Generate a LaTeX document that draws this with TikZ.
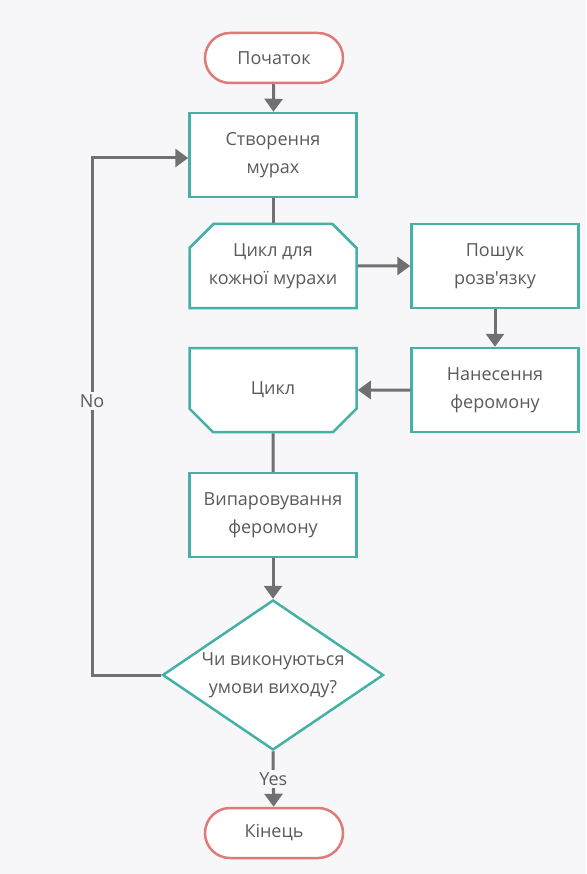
\documentclass[tikz,border=0pt]{standalone}
\usepackage{fontspec}
\setmainfont{Open Sans}[Ligatures=TeXOff]
\usetikzlibrary{shapes.geometric,shapes.misc,arrows.meta}
\definecolor{bg}{HTML}{F7F7F9}
\definecolor{teal1}{HTML}{45B0A5}
\definecolor{red1}{HTML}{E07A7A}
\definecolor{line1}{HTML}{707070}
\definecolor{txt}{HTML}{5A5A5A}
\begin{document}
\begin{tikzpicture}[x=1pt,y=-1pt,
 base/.style={font=\fontsize{18}{28}\selectfont, text=txt, align=center, fill=white, line width=2.5pt},
 term/.style={base, draw=red1, rounded corners=25pt, minimum width=138pt, minimum height=50pt},
 proc/.style={base, draw=teal1, minimum width=167pt, minimum height=84pt},
 loopa/.style={base, draw=teal1, chamfered rectangle, chamfered rectangle corners={north west, north east}, chamfered rectangle xsep=12pt, chamfered rectangle ysep=12pt, minimum width=167pt, minimum height=84pt},
 loopb/.style={base, draw=teal1, chamfered rectangle, chamfered rectangle corners={south west, south east}, chamfered rectangle xsep=12pt, chamfered rectangle ysep=12pt, minimum width=167pt, minimum height=84pt},
 dec/.style={base, draw=teal1, diamond, aspect=1.47, inner sep=0pt, minimum width=221pt, minimum height=150pt},
 ln/.style={draw=line1, line width=3pt},
 arr/.style={ln, -{Triangle[width=18pt,length=13pt]}},
 lab/.style={font=\fontsize{18}{22}\selectfont, text=txt, fill=bg, inner sep=2pt}
]
\fill[bg] (0,0) rectangle (586,874);
\useasboundingbox (0,0) rectangle (586,874);
\node[term] (start) at (274,58) {Початок};
\node[proc] (create) at (273,155) {Створення\\мурах};
\node[loopa] (loop1) at (273,266) {Цикл для\\кожної мурахи};
\node[proc] (search) at (495,266) {Пошук\\розв'язку};
\node[proc] (apply) at (495,390) {Нанесення\\феромону};
\node[loopb] (loop2) at (273,390) {Цикл};
\node[proc] (evap) at (273,515) {Випаровування\\феромону};
\node[dec] (cond) at (273,675) {Чи виконуються\\умови виходу?};
\node[term] (end) at (274,833) {Кінець};
\coordinate (c1) at (92,675);
\coordinate (c2) at (92,158);
\draw[arr] (start) -- (create);
\draw[ln] (create) -- (loop1);
\draw[arr] (loop1) -- (search);
\draw[arr] (search) -- (apply);
\draw[arr] (apply) -- (loop2);
\draw[ln] (loop2) -- (evap);
\draw[arr] (evap) -- (cond);
\draw[arr] (cond.south) -- node[lab]{Yes} (end);
\draw[arr] (cond.west) -- (c1) -- node[lab,pos=0.53]{No} (c2) -- (c2 -| create.west);
\end{tikzpicture}
\end{document}
